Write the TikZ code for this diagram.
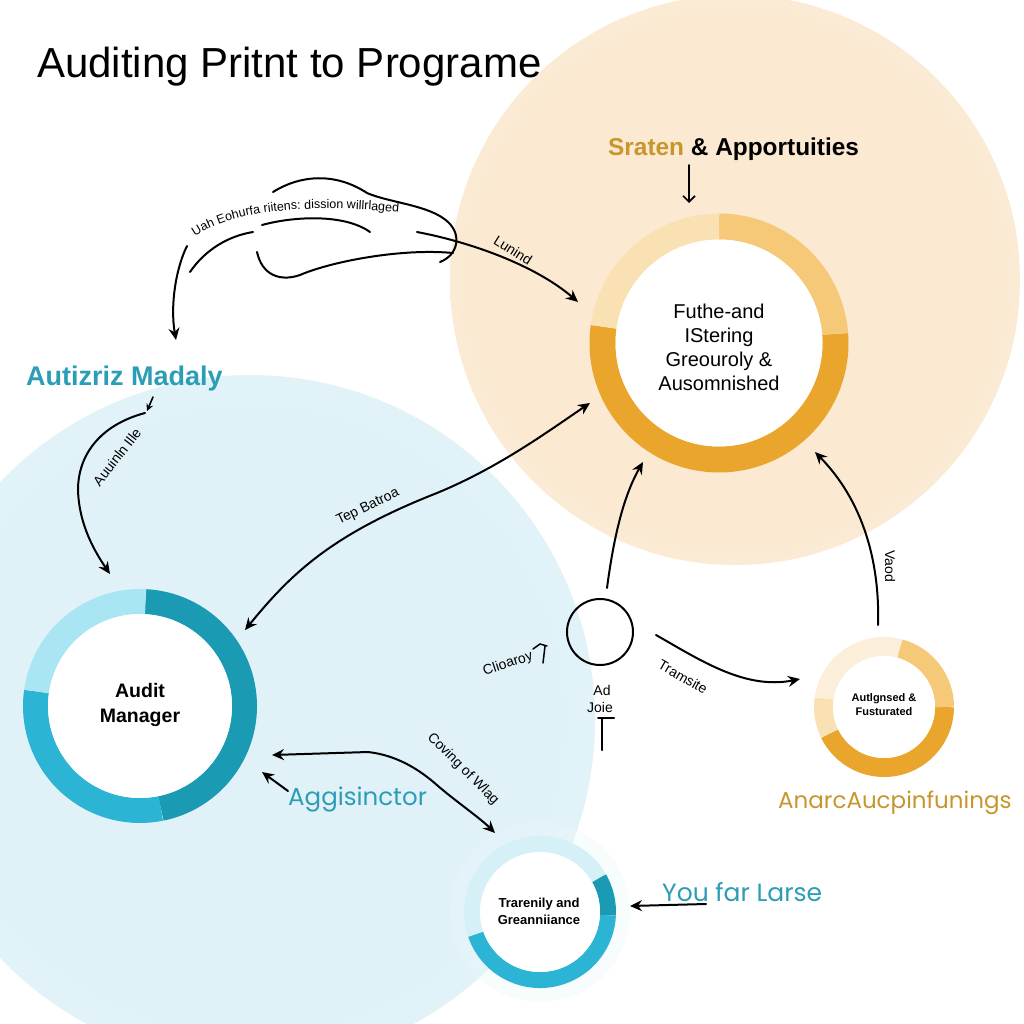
\documentclass[tikz,border=0pt]{standalone}
\usepackage{fontspec}
\setmainfont{Liberation Sans}
\newfontfamily\popfont{Poppins}
\usetikzlibrary{arrows.meta,decorations.text}
\definecolor{oDark}{HTML}{E9A52C}
\definecolor{oMed}{HTML}{F5C977}
\definecolor{oLight}{HTML}{FAE1B3}
\definecolor{oPale}{HTML}{FCEFD9}
\definecolor{bDark}{HTML}{1B9BB3}
\definecolor{bMed}{HTML}{2BB4D4}
\definecolor{bLight}{HTML}{A9E5F3}
\definecolor{bPale}{HTML}{D6F0F7}
\definecolor{tealtxt}{HTML}{2C9DB6}
\definecolor{goldtxt}{HTML}{C8962C}
\definecolor{hoIn}{HTML}{FBE9D1}
\definecolor{hoMid}{HTML}{FDF2E4}
\definecolor{hoOut}{HTML}{FFFDFA}
\definecolor{hbIn}{HTML}{E0F2F8}
\definecolor{hbMid}{HTML}{EAF7FB}
\definecolor{hbOut}{HTML}{FCFEFF}
\pgfdeclareradialshading{haloO}{\pgfpoint{0bp}{0bp}}{color(0bp)=(hoIn); color(22bp)=(hoIn); color(40bp)=(hoMid); color(50bp)=(hoOut)}
\pgfdeclareradialshading{haloB}{\pgfpoint{0bp}{0bp}}{color(0bp)=(hbIn); color(22bp)=(hbIn); color(40bp)=(hbMid); color(50bp)=(hbOut)}
\begin{document}
\begin{tikzpicture}[x=1pt,y=-1pt,
  con/.style={line width=2pt, line cap=round},
  arr/.style={con, -{Stealth[length=12pt,width=11pt,inset=4pt]}},
  darr/.style={con, {Stealth[length=12pt,width=11pt,inset=4pt]}-{Stealth[length=12pt,width=11pt,inset=4pt]}},
  sl/.style={inner sep=0pt, font=\fontsize{14}{14}\selectfont},
  lbl/.style={inner sep=0pt, anchor=base west}]
\useasboundingbox (0,0) rectangle (1024,1024);
\fill[white] (0,0) rectangle (1024,1024);
\begin{scope}
\clip (0,0) rectangle (1024,1024);
\shade[shading=haloO] (735,280) circle[radius=285pt];
\shade[shading=haloB] (250,720) circle[radius=345pt];
\fill[hbMid, opacity=0.35] (540,912) circle[radius=90pt];
\end{scope}

% top-right ring
\draw[line width=26pt, oDark] (719,343) ++(172:116.5pt) arc[start angle=172, end angle=364.5, radius=116.5pt];
\draw[line width=26pt, oMed] (719,343) ++(4.5:116.5pt) arc[start angle=4.5, end angle=90, radius=116.5pt];
\draw[line width=26pt, oLight] (719,343) ++(90:116.5pt) arc[start angle=90, end angle=172, radius=116.5pt];
\fill[white] (719,343) circle[radius=103.5pt];
\node[align=center, font=\fontsize{20}{24}\selectfont] (fut) at (719,347) {Futhe-and\\IStering\\Greouroly \&\\Ausomnished};

% audit manager ring
\draw[line width=25pt, bDark] (140,706) ++(-78.5:104.5pt) arc[start angle=-78.5, end angle=87, radius=104.5pt];
\draw[line width=25pt, bMed] (140,706) ++(172:104.5pt) arc[start angle=172, end angle=281.5, radius=104.5pt];
\draw[line width=25pt, bLight] (140,706) ++(87:104.5pt) arc[start angle=87, end angle=172, radius=104.5pt];
\fill[white] (140,706) circle[radius=92pt];
\node[align=center, font=\bfseries\fontsize{19.5}{25}\selectfont] (am) at (140,705) {Audit\\Manager};

% small right ring
\draw[line width=19pt, oDark] (884,707) ++(206:60.5pt) arc[start angle=206, end angle=360, radius=60.5pt];
\draw[line width=19pt, oMed] (884,707) ++(0:60.5pt) arc[start angle=0, end angle=75, radius=60.5pt];
\draw[line width=19pt, oPale] (884,707) ++(75:60.5pt) arc[start angle=75, end angle=172, radius=60.5pt];
\draw[line width=19pt, oLight] (884,707) ++(172:60.5pt) arc[start angle=172, end angle=206, radius=60.5pt];
\fill[white] (884,707) circle[radius=51pt];
\node[align=center, font=\bfseries\fontsize{11}{14}\selectfont] (af) at (884,705) {Autlgnsed \&\\Fusturated};

% bottom ring
\draw[line width=16pt, bDark] (540,912) ++(-3:68pt) arc[start angle=-3, end angle=30, radius=68pt];
\draw[line width=16pt, bMed] (540,912) ++(199:68pt) arc[start angle=199, end angle=357, radius=68pt];
\draw[line width=16pt, bPale] (540,912) ++(30:68pt) arc[start angle=30, end angle=199, radius=68pt];
\fill[white] (540,912) circle[radius=60pt];
\node[align=center, font=\bfseries\fontsize{13}{17}\selectfont] (tg) at (539,911) {Trarenily and\\Greanniiance};

% small open circle
\node[draw, circle, minimum size=66pt, line width=2pt, inner sep=0pt] (sc) at (600,632) {};

% titles and labels
\node[lbl, font=\fontsize{42}{42}\selectfont] (title) at (37,78) {Auditing Pritnt to Programe};
\node[lbl, font=\bfseries\fontsize{24.4}{26}\selectfont] (sr) at (608,156) {\textcolor{goldtxt}{Sraten} \& Apportuities};
\node[lbl, font=\bfseries\fontsize{27}{27}\selectfont, text=tealtxt] (az) at (26,385) {Autizriz Madaly};
\node[lbl, font=\popfont\fontsize{24.5}{25}\selectfont, text=tealtxt] (ag) at (288,805) {Aggisinctor};
\node[lbl, font=\popfont\fontsize{25}{25}\selectfont, text=tealtxt] (yf) at (662,901) {You far Larse};
\node[lbl, font=\popfont\fontsize{23}{23}\selectfont, text=goldtxt] (an) at (778,808) {AnarcAucpinfunings};

\node[sl, rotate=-32] (lun) at (513,250) {Lunind};
\node[sl, rotate=52] (aui) at (117,457) {Auuinln Ille};
\node[sl, rotate=26] (tep) at (368,507) {Tep Batroa};
\node[sl, rotate=18] (cli) at (508,664) {Clioaroy};
\node[sl] (ad) at (602,690) {Ad};
\node[sl] (joie) at (600,707) {Joie};
\node[sl, rotate=-30] (tra) at (683,677) {Tramsite};
\node[sl, rotate=-90] (vao) at (890,566) {Vaod};
\node[sl, rotate=-45] (cov) at (463,769) {Coving of Wlag};

\path[decorate, decoration={text along path, text align=center,
  text={|\fontsize{12.5}{12.5}\selectfont|Uah Eohurfa riitens: dission willrlaged}}]
  (183,246) .. controls (215,214) and (290,200) .. (414,214);

% scribble loop
\coordinate (s1) at (187,246); \coordinate (s1e) at (176,340);
\draw[arr] (s1) .. controls (176,268) and (170,305) .. (s1e);
\draw[con] (190,272) .. controls (205,250) and (228,236) .. (253,232);
\draw[con] (262,225) .. controls (295,216) and (345,214) .. (370,232);
\draw[con] (273,192) .. controls (300,175) and (335,172) .. (367,193) .. controls (390,203) and (430,205) .. (448,222) .. controls (462,235) and (458,255) .. (440,262);
\draw[con] (257,252) .. controls (262,275) and (280,282) .. (300,275) .. controls (330,262) and (400,248) .. (453,253);
\coordinate (l1) at (417,232); \coordinate (l1e) at (578,302);
\draw[arr] (l1) .. controls (470,242) and (535,265) .. (l1e);

% other connectors
\coordinate (sra) at (689,165); \coordinate (srb) at (689,203);
\draw[con, line width=1.6pt, -{Straight Barb[length=6pt,width=12pt]}] (sra) -- (srb);
\coordinate (az1) at (153,397); \coordinate (az2) at (147,411);
\draw[con, line width=1.6pt, -{Stealth[length=7pt,width=7pt]}] (az1) -- (az2);
\coordinate (az3) at (145,413); \coordinate (az4) at (110,574);
\draw[arr] (az3) .. controls (100,425) and (78,455) .. (78,490) .. controls (79,525) and (95,552) .. (az4);
\coordinate (tb1) at (245,630); \coordinate (tb2) at (590,403);
\draw[darr] (tb1) .. controls (290,575) and (330,535) .. (437,493) .. controls (500,467) and (550,430) .. (tb2);
\coordinate (up1) at (607,588); \coordinate (up2) at (643,462);
\draw[arr] (up1) .. controls (614,535) and (624,495) .. (up2);
\coordinate (v1) at (878,625); \coordinate (v2) at (815,452);
\draw[arr] (v1) .. controls (880,560) and (862,500) .. (v2);
\coordinate (tr1) at (656,635); \coordinate (tr2) at (800,679);
\draw[arr] (tr1) .. controls (700,660) and (745,690) .. (tr2);
\coordinate (cv1) at (272,755); \coordinate (cv2) at (495,833);
\draw[darr] (cv1) -- (368,752) .. controls (395,755) and (418,768) .. (438,786) .. controls (458,803) and (480,818) .. (cv2);
\coordinate (ag1) at (288,791); \coordinate (ag2) at (262,772);
\draw[arr] (ag1) -- (ag2);
\coordinate (yf1) at (706,904); \coordinate (yf2) at (630,906);
\draw[arr] (yf1) -- (yf2);
\coordinate (j1) at (598,718); \coordinate (j2) at (614,718); \coordinate (j3) at (602,750);
\draw[con] (j1) -- (j2);
\draw[con] (602,718) -- (j3);
\draw[line width=1.5pt, line cap=round] (533,649) -- (540,644) -- (547,646) (545,646) -- (543,663);
\end{tikzpicture}
\end{document}
